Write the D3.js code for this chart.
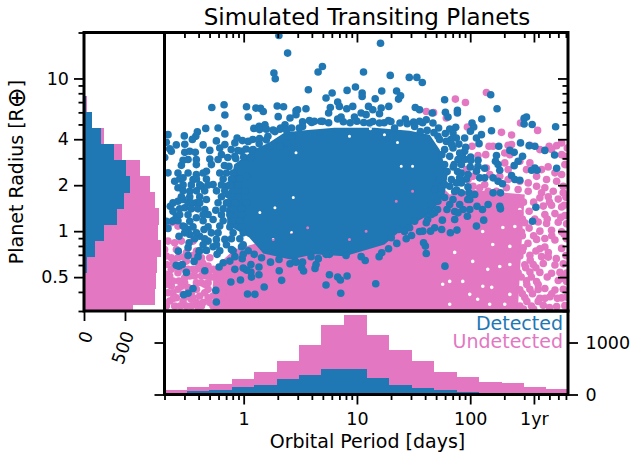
<!DOCTYPE html>
<html><head><meta charset="utf-8">
<script src="https://cdn.jsdelivr.net/npm/d3@7"></script>
<style>html,body{margin:0;background:#fff}svg{display:block}text{font-family:"DejaVu Sans",sans-serif;fill:#000}</style>
</head><body><svg id="c" width="634" height="453"></svg>
<script>
// Histogram of orbital period: bin edges in days, stacked-total and detected counts
const periodEdges=[.2,.315,.498,.785,1.24,1.95,3.08,4.86,7.67,12.1,19.1,30.1,47.5,75,118,187,294,464,733];
const periodTotal=[83,146,211,300,429,640,948,1346,1525,1140,858,646,435,333,242,212,135,108];
const periodDetected=[31,63,83,140,192,294,371,500,492,319,192,127,88,44,0,0,0,0];
// Histogram of radius: bin edges in Earth radii, total and detected counts
const radiusEdges=[20,15.7,12.35,9.71,7.63,6.0,4.71,3.70,2.91,2.29,1.80,1.41,1.11,.873,.686,.539,.424,.333,.262];
const radiusTotal=[0,0,0,0,33,98,240,467,687,805,862,911,906,935,894,878,866,594];
const radiusDetected=[0,0,0,0,28,92,207,370,512,561,484,406,244,134,40,0,0,0];
// Scatter: [log10 period (days), log10 radius (Earth radii)]
const detected=[[.311,1.281],[.388,1.166],[.267,1.035],[.279,.998],[-.281,.81],[-.173,.828],[-.166,.761],[.025,.815],[.108,.806],[.149,.804],[.173,.784],[.04,.748],[.296,.82],[.352,.815],[.305,.75],[.462,.789],[.409,.741],[.09,.673],[.137,.686],[.188,.697],[-.335,.673],[-.226,.676],[-.166,.637],[-.409,.65],[-.423,.621],[-.453,.601],[-.524,.624],[-.668,.632],[-.683,.582],[-.595,.565],[-.52,.569],[-.358,.565],[-.241,.591],[-.653,.539],[-.639,.523],[-.697,.482],[-.52,.516],[-.476,.523],[-.427,.516],[-.299,.529],[-.166,.567],[-.211,.545],[-.078,.578],[-.058,.61],[-.011,.593],[.04,.588],[.137,.573],[.214,.621],[.276,.652],[.326,.676],[.365,.697],[-.535,.464],[-.55,.431],[-.491,.469],[-.418,.469],[-.418,.436],[-.299,.473],[-.285,.436],[-.196,.501],[-.226,.469],[-.078,.49],[-.019,.523],[.084,.534],[.232,.556],[.32,.556],[.379,.578],[.423,.621],[.423,.676],
[-.241,-.464],[-.246,-.388],[-.447,-.376],[-.491,-.407],[-.529,-.416],[.034,-.412],[.099,-.414],[.181,-.366],[-.113,-.333],[-.028,-.32],[.335,-.322],[.314,-.259],[.069,-.301],[.135,-.285],[.064,-.268],[.025,-.255],[-.004,-.242],[-.078,-.25],[.135,-.235],[.064,-.218],[-.343,-.259],[-.506,-.27],[-.571,-.229],[-.595,-.224],[-.542,-.218],[-.438,-.198],[-.217,-.235],[-.181,-.207],[-.122,-.196],[-.078,-.167],[-.013,-.18],[-.004,-.152],[.093,-.152],[.158,-.174],[.237,-.203],[.312,-.185],[.409,-.213],[.453,-.196],[-.235,-.152],[-.403,-.167],[-.394,-.131],[-.491,-.159],[-.577,-.131],[-.491,-.108],[-.482,-.076],[-.571,-.033],[-.668,.018],[-.63,.065],[-.683,.065],[-.329,-.126],[-.27,-.102],[-.108,-.12],[-.019,-.102],[-.35,.011],[-.491,.011],[-.476,-.022],[-.388,-.033],[-.314,-.065],[-.241,-.054],[-.166,-.054],[-.535,.033],[-.58,.196],[-.648,.163],[-.624,.131],[-.52,.153],[-.343,.142],[-.314,.109],[-.246,.137],[-.27,.076],[-.418,.088],[-.476,.065],[-.595,.098],[-.668,.382],[-.609,.327],[-.535,.349],[-.58,.284],[-.476,.261],[-.418,.371],[-.329,.392],[-.27,.305],[-.152,.294],[-.329,.207],[-.226,.186],[-.137,.24],[-.122,.131],[-.211,.033],[-.034,.163],[.025,.186],[.011,.261],[-.078,.349],[.025,.359],[-.447,.338],[-.373,.294],[-.535,.207],[-.418,.186],
[-.58,.381],[-.491,.381],[-.358,.381],[-.211,.381],[-.152,.381],[-.093,.381],[-.565,.342],[-.417,.342],[-.329,.342],[-.181,.342],[-.108,.342],[-.034,.342],[-.535,.303],[-.462,.303],[-.388,.303],[-.314,.303],[-.196,.303],[-.122,.303],[-.049,.303],[-.535,.264],[-.417,.264],[-.344,.264],[-.24,.264],[-.167,.264],[-.55,.225],[-.476,.225],[-.388,.225],[-.196,.225],[-.108,.225],[-.049,.225],[-.624,.185],[-.491,.185],[-.462,.185],[-.388,.185],[-.152,.185],[-.078,.185],[-.565,.146],[-.462,.146],[-.403,.146],[-.181,.146],[-.093,.146],[-.019,.146],[-.565,.107],[-.491,.107],[-.358,.107],[-.196,.107],[-.122,.107],[-.019,.107],[-.624,.068],[-.58,.068],[-.358,.068],[-.181,.068],[-.093,.068],[-.034,.068],[-.521,.028],[-.447,.028],[-.314,.028],[-.122,.028],[-.019,.028],[-.521,-.011],[-.417,-.011],[-.285,-.011],[-.226,-.011],[-.093,-.011],[-.004,-.011],[-.432,-.05],[-.344,-.05],[-.108,-.05],[-.034,-.05],[-.358,-.089],[-.24,-.089],[-.152,-.089],[-.004,-.089],[-.388,-.128],[-.211,-.128],[-.093,-.128],[.04,-.128],
[.14,.665],[.2,.668],[.26,.662],[.32,.668],[.38,.66],[.52,.717],[.6,.712],[.68,.72],[.75,.71],[.88,.717],[.94,.71],[1.0,.72],[1.06,.712],[1.14,.718],[1.24,.71],[1.3,.718],[1.38,.708],[1.5,.715],[1.58,.71],[1.56,.652],[1.62,.66],[1.68,.645],[-.11,.534],[-.05,.528],[.02,.538],[.07,.53],[-.14,.482],[-.07,.476],[0,.486],[.06,.48],[-.17,.43],[-.13,.424],[.08,.6],[.14,.606],[.2,.598],[1.78,.64],[1.83,.6],[1.9,.57],[1.96,.55],[1.95,.47],[2.0,.42],[1.92,.38],[1.98,.29],[1.88,.27],[1.85,.42],[1.93,.5],
[.757,-.285],[.83,-.301],[.854,-.32],[.913,-.294],[.727,-.353],[.857,-.407],[1.166,-.344],[.529,-.261],[.512,-.239],[.52,-.203],[.63,-.244],[.639,-.218],[.659,-.18],[1.073,-.192],[1.037,-.167],[1.196,-.167],[1.219,-.141],[1.279,-.115],[1.435,-.05],[1.352,-.08],[1.612,-.146],[1.604,-.098],[1.588,-.076],[1.582,0],[1.612,.055],[1.509,.065],[1.465,.022],[1.37,.011],[1.303,-.043],[.904,-.159],[.757,-.152],[.727,-.152],[.595,-.167],[.462,-.203],
[1.208,1.231],[.695,1.078],[.657,1.042],[1.058,1.042],[1.294,1.02],[1.462,1.007],[1.529,1.007],[1.577,.974],[.571,.926],[.781,.905],[.727,.872],[.913,.922],[.987,.944],[1.046,.905],[1.046,.882],[1.219,.918],[1.161,.867],[1.35,.918],[1.385,.887],[1.367,.865],[.83,.846],[.845,.817],[.55,.802],[.476,.795],[.765,.81],[.75,.774],[.91,.802],[.963,.817],[1.102,.817],[1.14,.795],[1.214,.807],[1.281,.817],[1.515,.81],[1.553,.795],[.58,.725],[.624,.719],[.697,.719],[.83,.735],[.86,.748],[.978,.748],[1.037,.774],[1.081,.763],[1.199,.769],[1.279,.725],[1.427,.735],[1.444,.704],[1.553,.719],[1.612,.73],[1.509,.686],[.52,.686],[.491,.676],[.462,.763],[1.332,.676],[1.199,.708],[1.111,.708],
[1.774,.861],[2.181,.893],[2.237,.802],[1.665,.774],[1.781,.778],[1.804,.748],[1.887,.791],[1.887,.774],[2.102,.735],[2.497,.748],[2.476,.739],[2.476,.702],[2.547,.699],[2.754,.684],[2.188,.658],[2.016,.708],[2.031,.682],[2.002,.654],[1.819,.669],[1.872,.68],[1.848,.643],[1.721,.676],[1.671,.708],[2.099,.632],[2.055,.61],[1.951,.61],[2.078,.573],[1.789,.588],[1.878,.61],[1.715,.621],[2.252,.556],[2.444,.578],[2.52,.56],[2.571,.556],[2.659,.529],[2.745,.499],[2.763,.412],[2.35,.529],[2.388,.516],[2.462,.49],[2.423,.458],[2.388,.429],[2.571,.414],[2.591,.399],[2.542,.399],[2.232,.495],[2.223,.458],[2.246,.436],[2.261,.399],[2.069,.464],[2.069,.425],[2.128,.412],[2.055,.392],[2.084,.349],[2.128,.349],[2.004,.486],[2.004,.462],[1.951,.523],[1.907,.512],[1.892,.469],[1.922,.436],[1.819,.49],[1.848,.545],[2.365,.364],[2.394,.338],[2.438,.333],[2.202,.349],[2.246,.327],[2.285,.31],[1.981,.371],[1.966,.342],[1.834,.338],[1.878,.316],[1.922,.316],[1.819,.294],[1.922,.251],[1.989,.251],[2.202,.251],[2.267,.251],[1.774,.534],[1.774,.436],[1.73,.338],[1.686,.273],
[1.73,.6],[1.836,.567],[1.75,.501],[1.858,.436],[1.796,.39],[1.888,.39],[1.774,.305],[1.863,.26],[1.774,.22],[1.819,.175],[1.978,.207],[2.04,.24],[1.907,.351],[1.712,.142],[1.624,.076],[1.748,.011],[1.863,.129],[1.996,.142],[1.659,.175],[1.553,-.002],[1.482,-.028],[1.42,-.002],
[2.58,.157],[2.55,.065],[2.261,.163],[2.267,.146],[2.158,.175],[2.108,.142],[2.06,.163],[1.996,.207],[1.936,.142],[1.975,.098],[1.892,.12],[1.863,.076],[1.795,.142],[1.754,.072],[1.686,.12],[1.657,.109],[1.686,.022],[1.65,0],[2.119,.072],[2.055,.033],[1.883,.007],[1.825,-.01],[1.777,-.229],[1.907,.175],[1.848,.207],[1.715,.196]];
const undetected=[[2.143,.908],[1.869,.865],[1.958,.843],[1.677,.776],[1.789,.741],[2.276,.647],[2.365,.63],[2.595,.66],[2.444,.708],[1.975,.682],[2.016,.556],[2.166,.556],[2.202,.556],[2.335,.562],[2.365,.567],[2.527,.562],[2.697,.556],[2.763,.56],[2.807,.578],[2.857,.545],[2.137,.501],[2.069,.495],[2.305,.512],[2.35,.501],[2.615,.534],[2.719,.534],[2.807,.501],[2.836,.49],[2.527,.447],[2.688,.421],[2.63,.403],[2.836,.436],[2.748,.382],[2.807,.371],[2.674,.338],[2.586,.359],[2.497,.403],[2.438,.458],[2.335,.403],[2.305,.447],[2.143,.414],[2.173,.371],[2.261,.359],[2.335,.338],[2.438,.327],[2.512,.316],[2.586,.294],[2.659,.284],[2.733,.261],[2.821,.294],[2.763,.327],[2.025,.359],[2.025,.294],[2.084,.284],[2.128,.305],[2.055,.403],[1.966,.403],[1.981,.338],[1.936,.469],[2.158,.261],[2.232,.261],[2.32,.284],[2.423,.273],[2.512,.261],[2.63,.251],[2.821,.251],[1.612,.784],
[2.615,.218],[2.689,.225],[2.777,.21],[2.845,.222],[2.645,.164],[2.718,.17],[2.807,.158],[2.438,.115],[2.659,.109],[2.748,.115],[2.836,.103],[2.482,.055],[2.6,.06],[2.674,.05],[2.777,.058],[2.851,.048],[2.615,0],[2.718,.006],[2.807,-.004],[2.453,-.006],[2.586,-.054],[2.659,-.048],[2.748,-.058],[2.851,-.05],[2.468,-.109],[2.659,-.104],[2.807,-.113],[2.615,-.115],[2.438,-.163],[2.527,-.158],[2.63,-.167],[2.845,-.16],[2.689,-.17],[2.556,-.218],[2.645,-.212],[2.748,-.222],[2.822,-.214],[2.482,-.22],[2.423,-.272],[2.527,-.268],[2.718,-.276],[2.792,-.27],[2.851,-.275],[2.615,-.27],[2.379,-.327],[2.586,-.33],[2.777,-.323],[2.851,-.329],[2.497,-.325],[2.527,-.381],[2.659,-.376],[2.748,-.385],[2.822,-.38],[2.438,-.384],[2.6,-.382],[2.482,-.435],[2.615,-.44],[2.704,-.43],[2.807,-.437],[2.851,-.432],[2.541,-.49],[2.645,-.486],[2.763,-.494],[2.836,-.488],[2.438,-.491],
[2.47,.19],[2.56,.19],[2.52,.13],[2.46,.08],[2.57,.08],[2.52,.02],[2.46,-.03],[2.56,-.03],[2.51,-.08],[2.46,-.13],[2.58,-.13],[2.53,-.19],[2.49,-.24],[2.58,-.24],[2.45,-.3],[2.54,-.3],[2.5,-.35],[2.6,-.35],[2.46,-.41],[2.55,-.41],[2.5,-.46],[2.6,-.46],[2.47,-.51],[2.56,-.51],[2.7,.19],[2.83,.17],[2.68,.08],[2.8,.09],[2.72,-.03],[2.83,-.02],[2.69,-.14],[2.76,-.18],[2.68,-.3],[2.82,-.31],[2.72,-.41],[2.77,-.44],[2.66,-.44],[2.7,-.5],
[-.653,-.294],[-.683,-.348],[-.639,-.359],[-.639,-.174],[-.571,-.327],[-.609,-.076],[-.55,-.065],[-.447,-.065],[-.624,-.207],[-.506,-.141],[-.417,-.13],[-.417,-.25],[-.476,-.294],[-.521,-.338],[-.417,-.338],[-.329,-.294],[-.314,-.229],[-.373,-.338],[-.314,-.381],[-.388,-.425],[-.462,-.446],[-.594,-.436],[-.653,-.457],[-.358,-.468],[-.299,-.468],[-.535,-.414],[-.211,-.316],[-.181,-.403],[-.152,-.468],[-.27,-.25],[-.211,-.272],[-.403,-.207],[-.55,.218],[-.417,.153],[-.078,.262],[-.034,.24],[-.639,.055],[-.668,-.065],[-.58,.033],[-.683,-.163],[-.683,-.283],[-.668,-.403],[-.58,-.272],[-.521,-.25],[-.373,-.25],[-.447,-.25],[-.344,-.403],[-.535,-.457],[-.417,-.468],[-.594,-.12],[-.24,-.359],[-.27,-.425],[-.683,-.49],[-.609,-.49],[-.491,-.37],
[-.58,-.174],[-.506,-.196],[-.373,-.174],[-.299,-.174],[-.683,-.218],[-.639,-.25],[-.521,-.305],[-.432,-.294],[-.373,-.294],[-.462,-.403],[-.417,-.381],[-.24,-.261],[-.624,-.327],[-.668,-.327],[-.314,-.338],[-.344,-.348],[-.447,-.436],[-.624,-.403],[-.506,-.49],[-.373,-.49],[-.314,-.436],[-.27,-.49],[-.698,-.12],[-.491,-.25],
[-.62,-.44],[-.58,-.38],[-.55,-.36],[-.49,-.43],[-.56,-.49],[-.46,-.49],[-.4,-.5],[-.6,-.23],[-.53,-.17],[-.45,-.16],[-.36,-.21],[-.28,-.3],[-.31,-.28]];
// Outlines of the saturated regions where individual planets cannot be told apart
const detectedCore=[[-.084,.436],[.093,.534],[.226,.58],[.358,.645],[.491,.658],[.801,.678],[1.155,.678],[1.332,.665],[1.465,.658],[1.642,.632],[1.73,.534],[1.801,.371],[1.774,.24],[1.642,.109],[1.376,-.002],[1.243,-.087],[.889,-.165],[.624,-.152],[.412,-.185],[.173,-.146],[.049,-.041],[-.146,.044],[-.146,.207]];
const undetectedCore=[[-.27,-.523],[-.27,-.25],[-.084,-.12],[.402,-.022],[.933,.207],[1.642,.371],[1.819,.24],[1.996,.273],[2.482,.24],[2.456,-.054],[2.42,-.523]];
const detectedGaps=[[.276,.153],[.143,.122],[.423,-.008],[.261,-.054],[.438,.22],[1.347,.196],[.565,.022],[.934,-.054],[1.081,0],[1.491,.261],[1.243,.632],[1.119,.671],[.934,.621],[1.391,.425],[1.491,.425],[1.358,.58],[.462,.514]];
const undetectedGaps=[[2.438,.142],[2.11,-.002],[2.35,-.1],[2.199,-.087],[2.022,-.198],[1.863,-.139],[2.155,-.25],[1.934,-.329],[1.996,-.414],[2.111,-.361],[2.19,-.368],[1.757,-.348],[1.819,-.329],[2.35,-.414],[2.367,-.329],[2.261,-.231],[2.35,-.218],[2.394,.031],[2.288,.024],[2.066,-.446],[1.819,-.479],[2.172,-.479],[2.305,-.479]];
// Tick values and labels
const periodMajor=[1,10,100,365.25];
const periodLabels=["1","10","100","1yr"];
const periodMinor=[.2,.3,.4,.5,.6,.7,.8,.9,2,3,4,5,6,7,8,9,20,30,40,50,60,70,80,90,200,300,400,500,600,700];
const radiusMajor=[.5,1,2,4,10];
const radiusLabels=["0.5","1","2","4","10"];
const radiusMinor=[.3,.4,.6,.7,.8,.9,3,5,6,7,8,9,20];
const BLUE="#1f77b4",PINK="#e377c2";

const L=84,M=164.5,R=568,T=32.5,B=311,H=394.5;
const svg=d3.select("#c");
const x=d3.scaleLog().domain([.2,730]).range([M,R]);
const y=d3.scaleLog().domain([20,.3]).range([T,B]);
const cx=d3.scaleLinear().domain([0,982]).range([L,M]);
const cy=d3.scaleLinear().domain([0,1606]).range([H,B]);
const clip=(id,a,b,w,h)=>svg.append("clipPath").attr("id",id).append("rect").attr("x",a).attr("y",b).attr("width",w).attr("height",h);
clip("cm",M,T,R-M,B-T);clip("cl",L,T,M-L,B-T);clip("cb",M,B,R-M,H-B);

const main=svg.append("g").attr("clip-path","url(#cm)");
const px=d=>x(10**d[0]),py=d=>y(10**d[1]);
function region(pts,gaps,r){
  const p=d3.path();
  pts.forEach((d,i)=>i?p.lineTo(px(d),py(d)):p.moveTo(px(d),py(d)));p.closePath();
  gaps.forEach(d=>{p.moveTo(px(d)+r,py(d));p.arc(px(d),py(d),r,0,2*Math.PI);p.closePath();});
  return p.toString();
}
const dots=(data,c)=>main.append("g").selectAll("circle").data(data).join("circle").attr("cx",px).attr("cy",py).attr("r",3.8).attr("fill",c);
main.append("path").attr("d",region(undetectedCore,undetectedGaps,1.8)).attr("fill",PINK).attr("fill-rule","evenodd");
dots(undetected,PINK);
main.append("path").attr("d",region(detectedCore,detectedGaps,1.5)).attr("fill",BLUE).attr("fill-rule","evenodd");
dots(detected,BLUE);

// Bottom histogram
const bh=svg.append("g").attr("clip-path","url(#cb)").attr("shape-rendering","crispEdges");
const hbars=(vals,c)=>bh.append("g").selectAll("rect").data(vals).join("rect")
  .attr("x",(d,i)=>x(periodEdges[i])).attr("width",(d,i)=>x(periodEdges[i+1])-x(periodEdges[i])+.5)
  .attr("y",d=>cy(d)).attr("height",d=>H-cy(d)).attr("fill",c);
hbars(periodTotal,PINK);hbars(periodDetected,BLUE);
// Left histogram
const lh=svg.append("g").attr("clip-path","url(#cl)").attr("shape-rendering","crispEdges");
const vbars=(vals,c)=>lh.append("g").selectAll("rect").data(vals).join("rect")
  .attr("x",L).attr("width",d=>cx(d)-L)
  .attr("y",(d,i)=>y(radiusEdges[i])).attr("height",(d,i)=>y(radiusEdges[i+1])-y(radiusEdges[i])+.5).attr("fill",c);
vbars(radiusTotal,PINK);vbars(radiusDetected,BLUE);

// Axes
function ax(gen,tx,ty,vals,fmt,size,pad){
  const g=svg.append("g").attr("transform",`translate(${tx},${ty})`)
   .call(gen.tickValues(vals).tickFormat(fmt||"").tickSize(size).tickPadding(pad||0));
  g.select(".domain").remove();
  g.selectAll("line").attr("stroke","#000").attr("stroke-width",1.8);
  g.selectAll("text").attr("font-size",17.5).attr("font-family","DejaVu Sans").attr("fill","#000");
  return g;
}
const lab=(v,s)=>d=>s[v.indexOf(d)];
ax(d3.axisBottom(x),0,H,periodMajor,lab(periodMajor,periodLabels),10,8.5);
ax(d3.axisBottom(x),0,H,periodMinor,null,5.5);
ax(d3.axisTop(x),0,T,periodMajor,null,-10);
ax(d3.axisTop(x),0,T,periodMinor,null,-5.5);
ax(d3.axisLeft(y),L,0,radiusMajor,lab(radiusMajor,radiusLabels),10,5);
ax(d3.axisLeft(y),L,0,radiusMinor,null,5.5);
ax(d3.axisRight(y),R,0,radiusMajor,null,-10);
ax(d3.axisRight(y),R,0,radiusMinor,null,-5.5);
// Count axes
const g1=ax(d3.axisBottom(cx),0,B,[0,500],String,10,0);
g1.selectAll("text").attr("text-anchor","end").attr("dy",".35em").attr("y",21)
  .attr("transform","translate(3,0) rotate(-70 0 21)");
ax(d3.axisLeft(cy),M,0,[0,1000],null,10);
ax(d3.axisRight(cy),R,0,[0,1000],String,10,7.5);

// Frames
const fr=(a,b,w,h)=>svg.append("rect").attr("x",a).attr("y",b).attr("width",w).attr("height",h).attr("fill","none").attr("stroke","#000").attr("stroke-width",3);
fr(L,T,M-L,B-T);fr(M,T,R-M,B-T);fr(M,B,R-M,H-B);

// Text
svg.append("text").attr("x",367).attr("y",24.5).attr("text-anchor","middle").attr("font-size",23).text("Simulated Transiting Planets");
svg.append("text").attr("x",367.5).attr("y",448).attr("text-anchor","middle").attr("font-size",19).text("Orbital Period [days]");
const yl=svg.append("text").attr("transform","translate(23,172) rotate(-90)").attr("text-anchor","middle").attr("font-size",19);
yl.append("tspan").text("Planet Radius [R");
yl.append("tspan").attr("font-size",25).attr("dy",2).text("⊕");
yl.append("tspan").attr("dy",-2).text("]");
svg.append("text").attr("x",563).attr("y",329.5).attr("text-anchor","end").attr("font-size",19).style("fill",BLUE).text("Detected");
svg.append("text").attr("x",563).attr("y",348).attr("text-anchor","end").attr("font-size",19).style("fill",PINK).text("Undetected");
</script></body></html>
